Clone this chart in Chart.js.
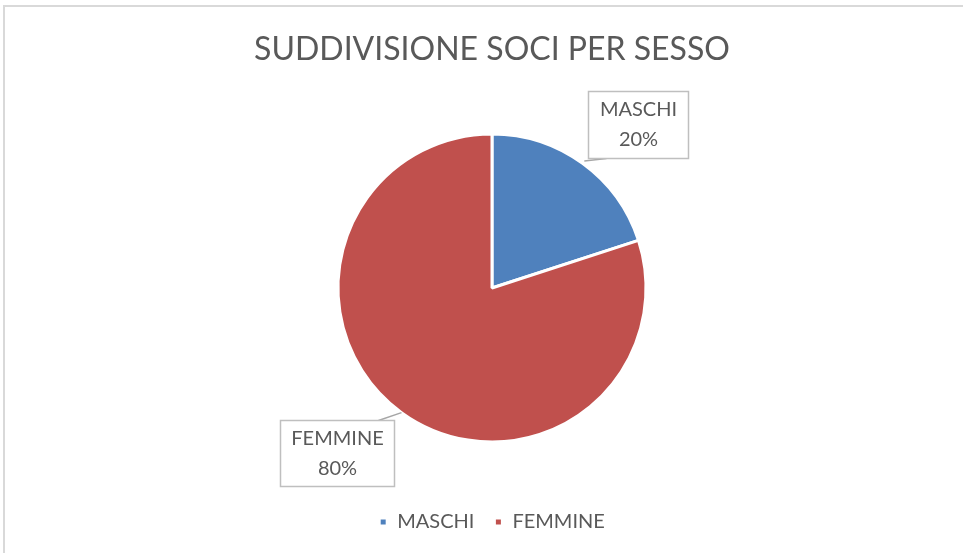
<!DOCTYPE html>
<html>
<head>
<meta charset="utf-8">
<script src="https://cdn.jsdelivr.net/npm/chart.js@4"></script>
<style>
  html, body { margin: 0; padding: 0; background: #ffffff; }
  #wrap { position: relative; width: 963px; height: 553px; overflow: hidden; }
  #frame { position: absolute; left: 3px; top: 5px; width: 1100px; height: 700px;
           border-left: 2px solid #d9d9d9; border-top: 2px solid #d9d9d9; }
  canvas { position: absolute; left: 0; top: 0; }
</style>
</head>
<body>
<div id="wrap">
  <div id="frame"></div>
  <canvas id="c" width="963" height="553"></canvas>
</div>
<script>
const chartTitle = "SUDDIVISIONE SOCI PER SESSO";
const categories = ["MASCHI", "FEMMINE"];
const shares = [20, 80];
const sliceColors = ["#4F81BD", "#C0504D"];

const FONT = "Lato, 'Open Sans', sans-serif";
const TEXT = "#595959";

// callout placement relative to each slice (angle shift in degrees, distance in radii)
const calloutLayout = [
  { dAngle: 5.7, dist: 1.424, w: 100, h: 67, lineFrom: "bottomLeft", lineInset: 18, tip: 1.02 },
  { dAngle: 7.2, dist: 1.47,  w: 114, h: 66, lineFrom: "topRight",  lineInset: 16, tip: 1.0 }
];

const calloutPlugin = {
  id: "callouts",
  afterDatasetsDraw(chart) {
    const ctx = chart.ctx;
    const meta = chart.getDatasetMeta(0);
    const total = shares.reduce((a, b) => a + b, 0);
    meta.data.forEach((arc, i) => {
      const p = arc.getProps(["x", "y", "startAngle", "endAngle", "outerRadius"], true);
      const mid = (p.startAngle + p.endAngle) / 2;
      const L = calloutLayout[i];
      const a = mid + L.dAngle * Math.PI / 180;
      const cx = p.x + Math.cos(a) * p.outerRadius * L.dist;
      const cy = p.y + Math.sin(a) * p.outerRadius * L.dist;
      const left = Math.round(cx - L.w / 2) + 0.5, top = Math.round(cy - L.h / 2) + 0.5;
      const tx = p.x + Math.cos(mid) * p.outerRadius * L.tip;
      const ty = p.y + Math.sin(mid) * p.outerRadius * L.tip;
      let sx, sy;
      if (L.lineFrom === "bottomLeft") { sx = left + L.lineInset; sy = top + L.h; }
      else { sx = left + L.w - L.lineInset; sy = top; }
      ctx.save();
      ctx.strokeStyle = "#a6a6a6";
      ctx.lineWidth = 1.5;
      ctx.beginPath();
      ctx.moveTo(sx, sy);
      ctx.lineTo(tx, ty);
      ctx.stroke();
      ctx.fillStyle = "#ffffff";
      ctx.fillRect(left, top, L.w, L.h);
      ctx.strokeStyle = "#bfbfbf";
      ctx.lineWidth = 1.5;
      ctx.strokeRect(left, top, L.w, L.h);
      ctx.fillStyle = TEXT;
      ctx.font = "20px " + FONT;
      ctx.textAlign = "center";
      ctx.textBaseline = "middle";
      const pct = Math.round(shares[i] / total * 100) + "%";
      ctx.fillText(categories[i], left + L.w / 2, top + L.h / 2 - 15);
      ctx.fillText(pct, left + L.w / 2, top + L.h / 2 + 15);
      ctx.restore();
    });
  }
};

new Chart(document.getElementById("c"), {
  type: "pie",
  data: {
    labels: categories,
    datasets: [{
      data: shares,
      backgroundColor: sliceColors,
      borderColor: "#ffffff",
      borderWidth: 3,
      radius: 154
    }]
  },
  options: {
    responsive: false,
    animation: false,
    layout: { padding: { top: 0, bottom: 11, left: 21, right: 0 } },
    plugins: {
      title: {
        display: true,
        text: chartTitle,
        color: TEXT,
        font: { family: FONT, size: 32, weight: "normal" },
        padding: { top: 30.8, bottom: 14.8 }
      },
      legend: {
        position: "bottom",
        labels: {
          color: TEXT,
          font: { family: FONT, size: 20 },
          boxWidth: 8,
          boxHeight: 8,
          padding: 20
        }
      },
      tooltip: { enabled: false }
    }
  },
  plugins: [calloutPlugin]
});
</script>
</body>
</html>
